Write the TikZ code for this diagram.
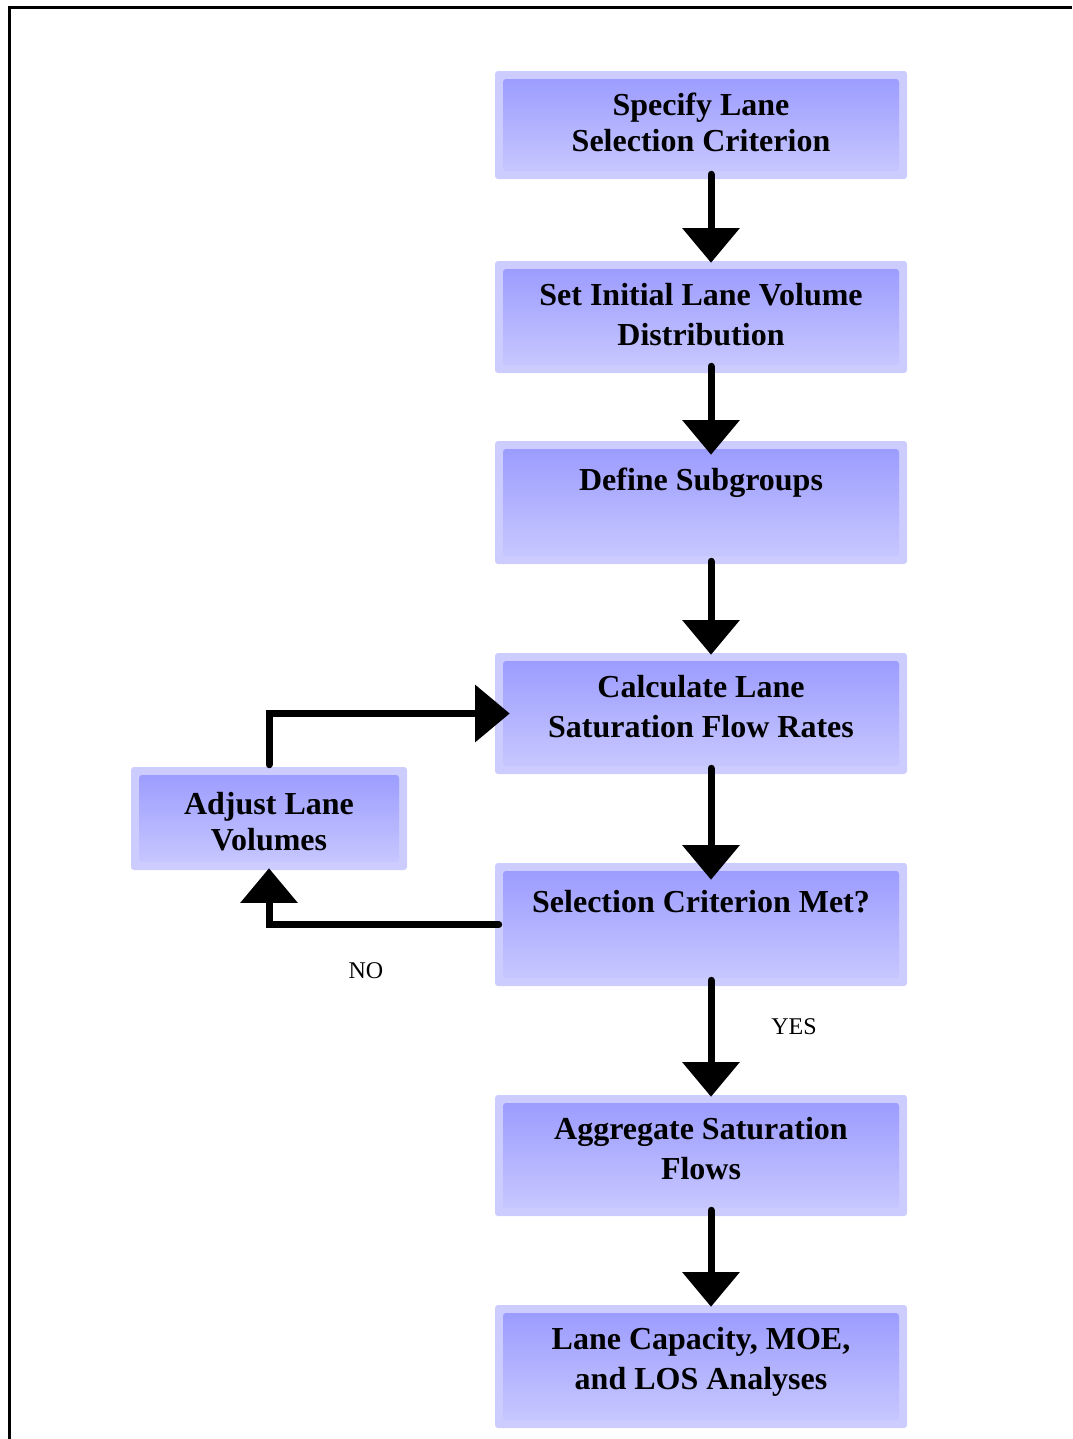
\documentclass[tikz,border=0pt]{standalone}
\usepackage{fontspec}
\setmainfont{Liberation Serif}
\usetikzlibrary{arrows.meta}

\definecolor{boxedge}{RGB}{204,204,255}
\definecolor{boxtop}{RGB}{153,153,255}
\definecolor{boxbottom}{RGB}{202,202,255}

\tikzset{
  procbox/.style={rectangle, rounded corners=2.25pt, fill=boxedge, inner sep=0pt,
    minimum width=309pt,
    path picture={\shade[top color=boxtop, bottom color=boxbottom]
      ([shift={(8,8)}]path picture bounding box.north west) rectangle
      ([shift={(-8,-8)}]path picture bounding box.south east);}},
  boxtext/.style={anchor=north, align=center, inner sep=0pt,
    font=\bfseries\fontsize{24pt}{27pt}\selectfont},
  widetext/.style={boxtext, font=\bfseries\fontsize{24pt}{30pt}\selectfont},
  flow/.style={line width=5.25pt, line cap=round,
    -{Triangle[width=42pt,length=26pt]}},
  note/.style={font=\fontsize{18pt}{20pt}\selectfont, inner sep=0pt}
}

\begin{document}
\begin{tikzpicture}[x=0.75pt, y=-0.75pt]
  \useasboundingbox (0,0) rectangle (1072,1439);
  % page frame (top and left edges)
  \draw[line width=2.25pt] (9,1439) -- (9,7) -- (1072,7);

  % process boxes
  \node[procbox, minimum height=81pt]    (b1) at (701,125) {};
  \node[procbox, minimum height=84pt]    (b2) at (701,317) {};
  \node[procbox, minimum height=92.25pt] (b3) at (701,502.5) {};
  \node[procbox, minimum height=90.75pt] (b4) at (701,713.5) {};
  \node[procbox, minimum height=92.25pt] (b5) at (701,924.5) {};
  \node[procbox, minimum height=90.75pt] (b6) at (701,1155.5) {};
  \node[procbox, minimum height=92.25pt] (b7) at (701,1366.5) {};
  \node[procbox, minimum width=207pt, minimum height=77.25pt] (adj) at (269,818.5) {};

  % box labels
  \node[boxtext]  (t1) at ([shift={(0,22)}]b1.north) {Specify Lane\\Selection Criterion};
  \node[widetext] (t2) at ([shift={(0,22)}]b2.north) {Set Initial Lane Volume\\Distribution};
  \node[boxtext]  (t3) at ([shift={(0,27)}]b3.north) {Define Subgroups};
  \node[widetext] (t4) at ([shift={(0,22)}]b4.north) {Calculate Lane\\Saturation Flow Rates};
  \node[boxtext]  (t5) at ([shift={(0,27)}]b5.north) {Selection Criterion Met?};
  \node[widetext] (t6) at ([shift={(0,22)}]b6.north) {Aggregate Saturation\\Flows};
  \node[widetext] (t7) at ([shift={(0,22)}]b7.north) {Lane Capacity, MOE,\\and LOS Analyses};
  \node[boxtext]  (ta) at ([shift={(0,25)}]adj.north) {Adjust Lane\\Volumes};

  % main flow
  \draw[flow] ([shift={(10,-5)}]b1.south) -- ([shift={(10,2)}]b2.north);
  \draw[flow] ([shift={(10,-7)}]b2.south) -- ([shift={(10,14)}]b3.north);
  \draw[flow] ([shift={(10,-3)}]b3.south) -- ([shift={(10,2)}]b4.north);
  \draw[flow] ([shift={(10,-6)}]b4.south) -- ([shift={(10,17)}]b5.north);
  \draw[flow] ([shift={(10,-6)}]b5.south) -- ([shift={(10,2)}]b6.north);
  \draw[flow] ([shift={(10,-6)}]b6.south) -- ([shift={(10,2)}]b7.north);

  % iteration loop
  \draw[flow] ([shift={(4,0)}]b5.west) -| ([shift={(0,-2)}]adj.south);
  \draw[flow] ([shift={(0,-2)}]adj.north) |- ([shift={(15,0)}]b4.west);

  \node[note] (no)  at (366,971)  {NO};
  \node[note] (yes) at (794,1027) {YES};
\end{tikzpicture}
\end{document}
